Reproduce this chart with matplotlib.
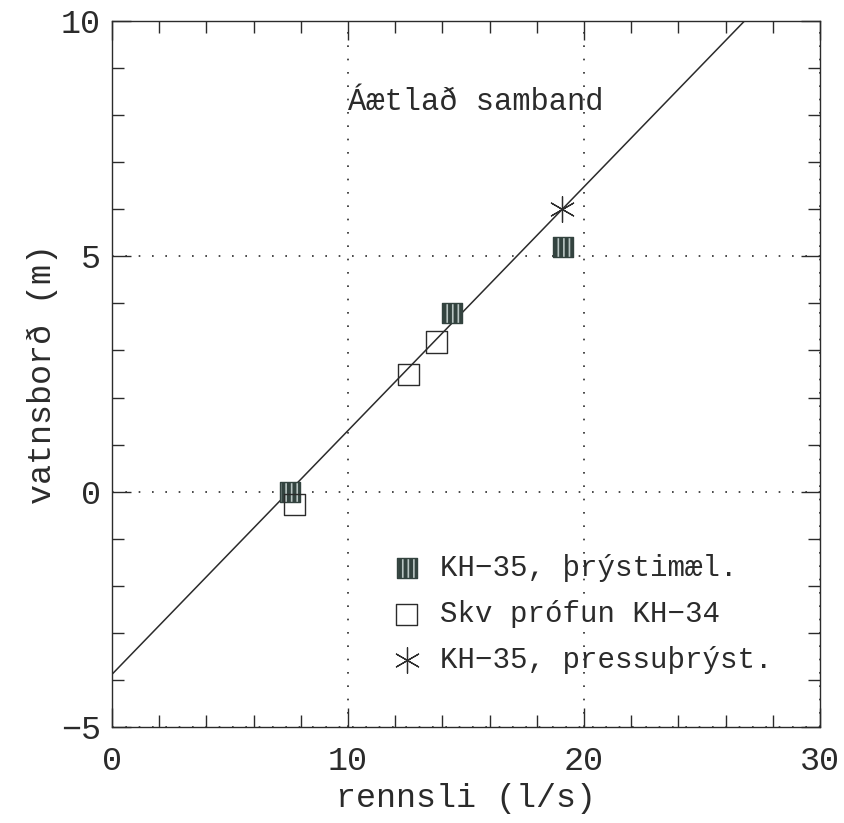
import numpy as np
import matplotlib
matplotlib.use("Agg")
import matplotlib.pyplot as plt
from matplotlib.ticker import MultipleLocator

# data
kh35_x = [7.55, 14.4, 19.1]          # KH-35, þrýstimæl.
kh35_y = [0.0, 3.8, 5.2]
kh34_x = [7.75, 12.55, 13.75]        # Skv prófun KH-34
kh34_y = [-0.28, 2.48, 3.18]
press_x = [19.05]                    # KH-35, pressuþrýst.
press_y = [6.0]
fit_x = [0.0, 26.8]                  # áætlað samband
fit_y = [-3.88, 10.0]

x_ticks = [0, 10, 20, 30]
y_ticks = [-5, 0, 5, 10]

plt.rcParams['font.family'] = ['Liberation Mono', 'DejaVu Sans Mono']
plt.rcParams['hatch.color'] = '#b8c4c2'
plt.rcParams['hatch.linewidth'] = 1.2
ink = '#2b2b2b'

fig = plt.figure(figsize=(8.44, 8.23), dpi=100)
ax = fig.add_axes([0.1327, 0.1166, 0.8389, 0.8579])

ax.plot(fit_x, fit_y, color=ink, lw=1.1, zorder=2)
ax.scatter(kh35_x, kh35_y, s=210, marker='s', facecolor='#33433f',
           edgecolors='face', hatch='|||', zorder=3,
           label='KH\u221235, \u00fer\u00fdstim\u00e6l.')
ax.scatter(kh34_x, kh34_y, s=230, marker='s', facecolor='none',
           edgecolors=ink, linewidths=1.0, zorder=3,
           label='Skv pr\u00f3fun KH\u221234')
ax.scatter(press_x, press_y, s=340, marker=(6, 2, 0), color=ink,
           linewidths=0.9, zorder=3,
           label='KH\u221235, pressu\u00fer\u00fdst.')

ax.set_xlim(0, 30)
ax.set_ylim(-5, 10)
ax.set_xticks(x_ticks)
ax.set_xticklabels([str(v) for v in x_ticks])
ax.set_yticks(y_ticks)
ax.set_yticklabels([str(v).replace('-', '\u2212') for v in y_ticks])
ax.xaxis.set_minor_locator(MultipleLocator(2))
ax.yaxis.set_minor_locator(MultipleLocator(1))
ax.tick_params(which='both', direction='in', top=True, right=True,
               colors=ink, labelsize=24, width=1.0)
ax.tick_params(which='major', length=14, pad=8)
ax.tick_params(axis='x', which='major', pad=14)
ax.tick_params(which='minor', length=8.5)
for s in ax.spines.values():
    s.set_color(ink)
    s.set_linewidth(1.0)

ax.grid(which='major', color=ink, linestyle=(0, (1, 7)), linewidth=1.2)

ax.set_xlabel('rennsli (l/s)', fontsize=24, color=ink, labelpad=4)
ax.set_ylabel('vatnsbor\u00f0 (m)', fontsize=24, color=ink, labelpad=2)

ax.text(10.0, 8.28, '\u00c1\u00e6tla\u00f0 samband', fontsize=22, color=ink,
        ha='left', va='center')

ax.legend(loc='upper left', bbox_to_anchor=(0.375, 0.262), frameon=False,
          fontsize=21, labelcolor=ink, handletextpad=0.55, labelspacing=0.62,
          handlelength=1.2, borderaxespad=0)

fig.savefig('out.png', dpi=100)
